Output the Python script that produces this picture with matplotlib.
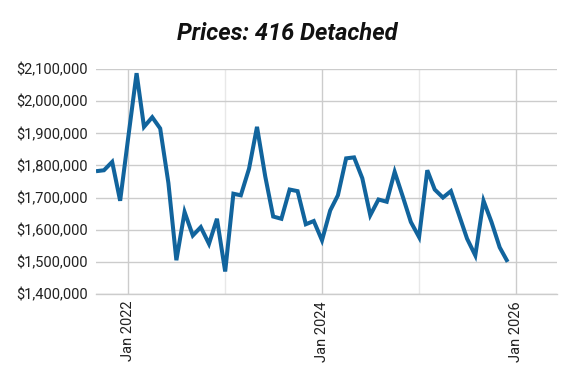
import matplotlib
matplotlib.use("Agg")
import matplotlib.pyplot as plt
import matplotlib.dates as mdates
import matplotlib.ticker as mticker
import pandas as pd

months = pd.date_range("2021-09-01", "2025-12-01", freq="MS")
prices = [
    1782000, 1785000, 1811000, 1690000,
    1890000, 2087000, 1920000, 1950000, 1915000, 1745000, 1505000, 1655000, 1582000, 1608000, 1556000, 1634000,
    1470000, 1712000, 1707000, 1790000, 1920000, 1766000, 1641000, 1634000, 1725000, 1720000, 1617000, 1627000,
    1567000, 1660000, 1707000, 1822000, 1825000, 1760000, 1645000, 1694000, 1687000, 1780000, 1702000, 1624000,
    1577000, 1785000, 1725000, 1700000, 1720000, 1645000, 1572000, 1520000, 1690000, 1624000, 1545000, 1500000,
]
title = "Prices: 416 Detached"

plt.rcParams["font.family"] = ["Roboto", "DejaVu Sans"]

fig = plt.figure(figsize=(5.76, 3.79), dpi=100)
ax = fig.add_axes([96/576, 1 - 294/379, (557-96)/576, (294-69)/379])

ax.plot(months, prices, color="#11649d", lw=2.9, solid_joinstyle="miter", solid_capstyle="butt", zorder=3)

ax.set_ylim(1400000, 2100000)
ax.set_xlim(pd.Timestamp("2021-09-01"), pd.Timestamp("2026-06-05"))
ax.yaxis.set_major_locator(mticker.MultipleLocator(100000))
ax.yaxis.set_major_formatter(mticker.FuncFormatter(lambda v, p: f"${v:,.0f}"))

ax.xaxis.set_major_locator(mdates.YearLocator(2, month=1, day=1))
ax.xaxis.set_minor_locator(mdates.YearLocator(1, month=1, day=1))
ax.xaxis.set_major_formatter(mdates.DateFormatter("%b %Y"))

ax.grid(True, which="major", axis="y", color="#cccccc", lw=1)
ax.grid(True, which="major", axis="x", color="#cccccc", lw=1)
ax.grid(True, which="minor", axis="x", color="#e8e8e8", lw=1)

for s in ["top", "right", "left"]:
    ax.spines[s].set_visible(False)
ax.spines["bottom"].set_color("#cccccc")
ax.spines["bottom"].set_linewidth(1)

ax.tick_params(axis="both", which="both", length=0, labelsize=10.5, colors="#222222")
ax.tick_params(axis="y", pad=6)
ax.tick_params(axis="x", pad=5)
for lab in ax.get_xticklabels():
    lab.set_rotation(90)

fig.text(287/576, 1 - 33/379, title, ha="center", va="center", fontsize=17,
         fontweight="bold", fontstyle="italic", color="#111111")

fig.savefig("out.png", dpi=100)
